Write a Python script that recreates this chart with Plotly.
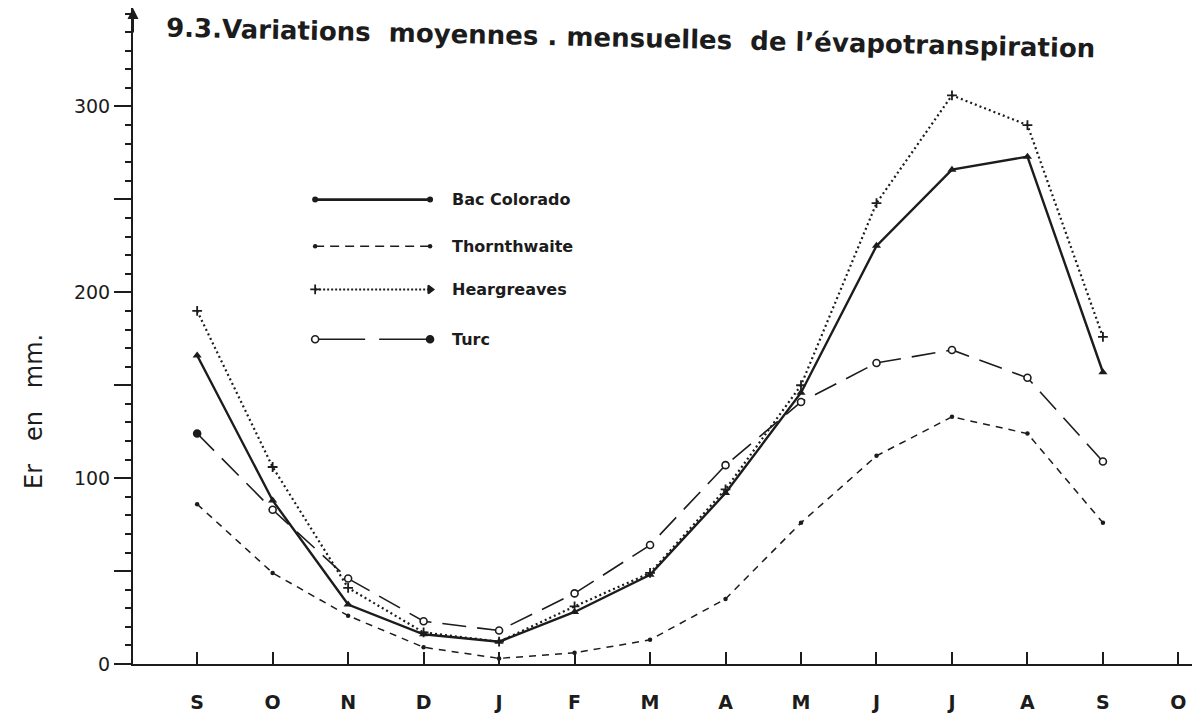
import plotly.graph_objects as go

# Months from September to October of the following year
months = ["S", "O", "N", "D", "J", "F", "M", "A", "M", "J", "J", "A", "S", "O"]

# Mean monthly evapotranspiration (mm), September .. September
bac_colorado = [166, 88, 32, 16, 12, 28, 48, 92, 146, 225, 266, 273, 157]
thornthwaite = [86, 49, 26, 9, 3, 6, 13, 35, 76, 112, 133, 124, 76]
heargreaves = [190, 106, 41, 17, 12, 31, 49, 94, 150, 248, 306, 290, 176]
turc = [124, 83, 46, 23, 18, 38, 64, 107, 141, 162, 169, 154, 109]

series_names = ["Bac Colorado", "Thornthwaite", "Heargreaves", "Turc"]

INK = "#1c1c1c"
FONT = "DejaVu Sans"

x_pos = list(range(len(months)))

values = {
    "Bac Colorado": bac_colorado,
    "Thornthwaite": thornthwaite,
    "Heargreaves": heargreaves,
    "Turc": turc,
}

styles = {
    "Bac Colorado": dict(line=dict(color=INK, width=2.4, dash="solid"),
                         marker=dict(symbol="triangle-up", size=8, color=INK)),
    "Thornthwaite": dict(line=dict(color=INK, width=1.5, dash="7px,6px"),
                         marker=dict(symbol="circle", size=4.5, color=INK)),
    "Heargreaves": dict(line=dict(color=INK, width=2.2, dash="2px,3px"),
                        marker=dict(symbol="cross-thin-open", size=7,
                                    color=INK, line=dict(color=INK, width=1.8))),
    "Turc": dict(line=dict(color=INK, width=1.6, dash="24px,11px"),
                 marker=dict(symbol="circle", size=7,
                             color=[INK] + ["white"] * (len(turc) - 1),
                             line=dict(color=INK, width=1.6))),
}

fig = go.Figure()

for name in series_names:
    ys = values[name]
    st = styles[name]
    fig.add_trace(go.Scatter(
        x=x_pos[:len(ys)], y=ys, mode="lines+markers", name=name,
        line=st["line"], marker=st["marker"], showlegend=False,
    ))

# Fine graduation of the vertical axis (every 10 mm), on an overlay axis
fig.add_trace(go.Scatter(x=[], y=[], xaxis="x", yaxis="y3",
                         showlegend=False, hoverinfo="skip"))

# Hand-drawn style key, placed on an overlay axis in plot-area fractions
key_x0, key_x1 = 0.172, 0.2805
key_rows = [0.708, 0.637, 0.571, 0.495]
key_markers = {
    "Bac Colorado": dict(symbol=["circle", "circle"], size=6, color=INK),
    "Thornthwaite": dict(symbol=["circle", "circle"], size=4.5, color=INK),
    "Heargreaves": dict(symbol=["cross-thin-open", "triangle-right"], size=7,
                        color=INK, line=dict(color=INK, width=1.8)),
    "Turc": dict(symbol=["circle", "circle"], size=7, color=["white", INK],
                 line=dict(color=INK, width=1.6)),
}
key_lines = {
    "Bac Colorado": dict(color=INK, width=2.8),
    "Thornthwaite": dict(color=INK, width=1.5, dash="9px,6px"),
    "Heargreaves": dict(color=INK, width=2.0, dash="2px,2px"),
    "Turc": dict(color=INK, width=1.6, dash="50px,14px"),
}
for name, yk in zip(series_names, key_rows):
    fig.add_trace(go.Scatter(
        x=[key_x0, key_x1], y=[yk, yk], mode="lines+markers",
        line=key_lines[name], marker=key_markers[name],
        xaxis="x2", yaxis="y2", showlegend=False, hoverinfo="skip",
    ))
    fig.add_annotation(
        x=0.299, y=yk, xref="x2", yref="y2", text=name, showarrow=False,
        xanchor="left", yanchor="middle",
        font=dict(family=FONT, size=16, color=INK, weight="bold"),
    )

# Title, lettered along a slight slope
fig.add_annotation(
    x=0.47, y=0.955, xref="paper", yref="paper",
    text="9.3.Variations  moyennes . mensuelles  de l’évapotranspiration",
    showarrow=False, textangle=1.3, xanchor="center", yanchor="middle",
    font=dict(family=FONT, size=26, color=INK, weight="bold"),
)

# Vertical axis title
fig.add_annotation(
    x=-0.093, y=0.385, xref="paper", yref="paper", text="Er   en   mm.",
    showarrow=False, textangle=-90, xanchor="center", yanchor="middle",
    font=dict(family=FONT, size=24, color=INK),
)

# Arrow head at the top of the vertical axis
fig.add_annotation(
    x=0, y=1, xref="paper", yref="paper", ax=0, ay=26, axref="pixel",
    ayref="pixel", text="", showarrow=True, arrowhead=2, arrowsize=1.1,
    arrowwidth=2, arrowcolor=INK,
)

Y_RANGE = [0, 353]

fig.update_layout(
    width=1192, height=720,
    margin=dict(l=133, r=0, t=8, b=56),
    paper_bgcolor="white", plot_bgcolor="white",
    font=dict(family=FONT, color=INK),
    showlegend=False,
    xaxis=dict(
        range=[-0.85, 13.18], tickmode="array", tickvals=x_pos,
        ticktext=months, ticks="inside", ticklen=12, tickwidth=1.5,
        tickcolor=INK, showline=True, linewidth=2, linecolor=INK,
        showgrid=False, zeroline=False, ticklabelstandoff=20,
        tickfont=dict(family=FONT, size=19, color=INK, weight="bold"),
    ),
    yaxis=dict(
        range=Y_RANGE, tickmode="array",
        tickvals=[0, 50, 100, 150, 200, 250, 300],
        ticktext=["0", "", "100", "", "200", "", "300"],
        ticks="outside", ticklen=17, tickwidth=1.8, tickcolor=INK,
        showline=True, linewidth=2, linecolor=INK, showgrid=False,
        zeroline=False, tickfont=dict(family=FONT, size=19, color=INK),
    ),
    yaxis3=dict(
        overlaying="y", anchor="x", side="left", range=Y_RANGE,
        tickmode="linear", tick0=0, dtick=10, ticks="outside", ticklen=7,
        tickwidth=1.5, tickcolor=INK, showticklabels=False, showgrid=False,
        zeroline=False, showline=False,
    ),
    xaxis2=dict(overlaying="x", range=[0, 1], visible=False),
    yaxis2=dict(overlaying="y", range=[0, 1], visible=False),
)

fig.write_html("out.html")
